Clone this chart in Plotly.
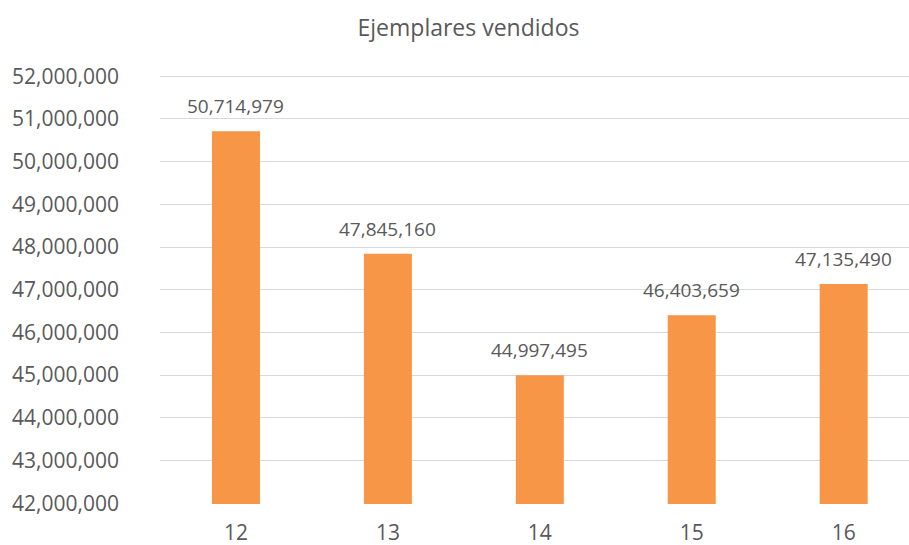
import plotly.graph_objects as go

categories = ["12", "13", "14", "15", "16"]
values = [50714979, 47845160, 44997495, 46403659, 47135490]
labels = [f"{v:,}" for v in values]
title = "Ejemplares vendidos"

TXT = "#595959"
FONT = "Open Sans"

fig = go.Figure()
fig.add_trace(go.Bar(
    x=categories, y=values, marker_color="#F79646", width=0.316,
    marker_line_width=0, hoverinfo="skip"))

for i, (v, l) in enumerate(zip(values, labels)):
    fig.add_annotation(x=i, y=v, text=l, showarrow=False, yanchor="bottom",
                       yshift=10, font=dict(family=FONT, size=19, color=TXT))

fig.update_layout(
    width=909, height=545,
    margin=dict(l=160, r=0, t=75, b=41),
    paper_bgcolor="white", plot_bgcolor="white",
    title=dict(text=title, x=468.5/909, xanchor="center", y=1 - 28/545, yanchor="middle",
               font=dict(family=FONT, size=23, color=TXT)),
    showlegend=False,
    xaxis=dict(type="category", range=[-0.5, 4.43], showgrid=False, zeroline=False,
               showline=False, ticks="", tickfont=dict(family=FONT, size=21, color=TXT),
               ticklabelstandoff=14, automargin=False),
    yaxis=dict(range=[41980000, 52030000], dtick=1000000, tick0=0, tickformat=",d",
               showgrid=True, gridcolor="#D9D9D9", gridwidth=1.3, zeroline=False,
               showline=False, ticks="", tickfont=dict(family=FONT, size=21, color=TXT),
               ticklabelstandoff=40, automargin=False),
)

fig.write_html("out.html", config={"displayModeBar": False},
               post_script="document.body.style.margin='0';document.body.style.overflow='hidden';")
